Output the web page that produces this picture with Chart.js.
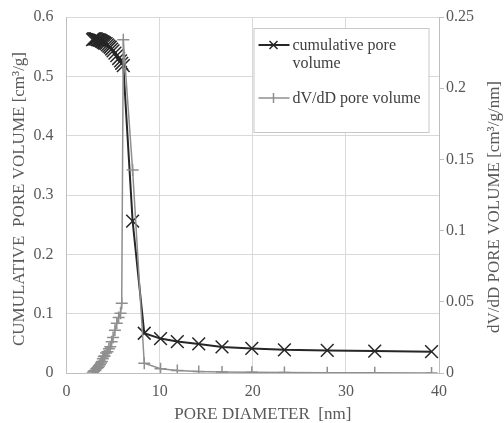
<!DOCTYPE html>
<html>
<head>
<meta charset="utf-8">
<script src="https://cdn.jsdelivr.net/npm/chart.js@4.4.1/dist/chart.umd.min.js"></script>
<style>
  html, body { margin: 0; padding: 0; background: #ffffff; }
  #wrap { width: 504px; height: 423px; }
</style>
</head>
<body>
<div id="wrap"><canvas id="chart" width="504" height="423"></canvas></div>
<script>
// BJH pore size distribution: pore diameter [nm]
const poreDiameter = [
  2.8, 2.9, 3.0, 3.1, 3.2, 3.3, 3.4, 3.5, 3.6, 3.7, 3.8, 3.9, 4.0, 4.1,
  4.25, 4.4, 4.55, 4.7, 4.85, 5.0, 5.2, 5.4, 5.6, 5.8, 5.93, 6.1,
  7.1, 8.35, 10.1, 11.9, 14.2, 16.7, 19.9, 23.4, 28.0, 33.1, 39.2
];
// cumulative pore volume [cm3/g]
const cumulativeVolume = [
  0.562, 0.563, 0.563, 0.563, 0.563, 0.562, 0.562, 0.561, 0.561, 0.560, 0.559, 0.558, 0.557, 0.556,
  0.555, 0.553, 0.551, 0.549, 0.546, 0.543, 0.539, 0.535, 0.530, 0.526, 0.522, 0.518,
  0.256, 0.067, 0.058, 0.053, 0.049, 0.044, 0.0415, 0.039, 0.038, 0.037, 0.036
];
// dV/dD pore volume [cm3/g/nm]
const dVdDVolume = [
  0.000, 0.001, 0.0015, 0.002, 0.003, 0.0035, 0.004, 0.005, 0.006, 0.007, 0.008, 0.010, 0.0115, 0.012,
  0.014, 0.015, 0.017, 0.0185, 0.022, 0.025, 0.030, 0.035, 0.039, 0.042, 0.049, 0.234,
  0.1425, 0.0068, 0.003, 0.0018, 0.001, 0.0007, 0.0005, 0.0003, 0.0002, 0.0001, 0.0
];

// axis ranges [min, max, step]
const xAxisRange = [0, 40, 10];
const leftAxisRange = [0, 0.6, 0.1];
const rightAxisRange = [0, 0.25, 0.05];

// texts
const seriesNames = ['cumulative pore volume', 'dV/dD pore volume'];
const xTitle = 'PORE DIAMETER  [nm]';
const leftTitle = 'CUMULATIVE  PORE VOLUME [cm\u00B3/g]';
const rightTitle = 'dV/dD PORE VOLUME [cm\u00B3/g/nm]';

const FONT = "'Liberation Serif', 'Times New Roman', serif";
const TEXT = '#595959';
const DARK = '#262626';
const GREY = '#8f8f8f';
const GRID = '#d9d9d9';

const toPoints = ys => poreDiameter.map((x, i) => ({ x: x, y: ys[i] }));
const fmt = v => String(Number(v.toFixed(3)));

// fixed scale boxes, with no extra room reserved for overhanging tick labels
const fixWidth = w => s => { s.width = w; s.paddingTop = 0; s.paddingBottom = 0; };
const fixHeight = h => s => { s.height = h; s.paddingLeft = 0; s.paddingRight = 0; };

// axis titles and the boxed legend
const decorations = {
  id: 'decorations',
  afterDraw(chart) {
    const ctx = chart.ctx;
    const ca = chart.chartArea;
    ctx.save();
    ctx.fillStyle = TEXT;
    ctx.font = '17px ' + FONT;
    ctx.textAlign = 'center';
    ctx.textBaseline = 'middle';
    // bottom title
    ctx.fillText(xTitle, (ca.left + ca.right) / 2 + 10, ca.bottom + 42);
    // left title
    ctx.save();
    ctx.translate(20, (ca.top + ca.bottom) / 2 + 4);
    ctx.rotate(-Math.PI / 2);
    ctx.fillText(leftTitle, 0, 0);
    ctx.restore();
    // right title (reads bottom to top)
    ctx.save();
    ctx.translate(495, (ca.top + ca.bottom) / 2 + 12);
    ctx.rotate(-Math.PI / 2);
    ctx.fillText(rightTitle, 0, 0);
    ctx.restore();

    // legend box
    const bx = ca.left + 187, by = ca.top + 11, bw = 175, bh = 104;
    ctx.fillStyle = '#ffffff';
    ctx.fillRect(bx, by, bw, bh);
    ctx.strokeStyle = '#c8c8c8';
    ctx.lineWidth = 1;
    ctx.strokeRect(bx + 0.5, by + 0.5, bw, bh);

    const sx0 = bx + 5, sx1 = bx + 36, mx = bx + 20;
    // entry 1
    const y1 = by + 17;
    ctx.strokeStyle = DARK;
    ctx.lineWidth = 2;
    ctx.beginPath(); ctx.moveTo(sx0, y1); ctx.lineTo(sx1, y1); ctx.stroke();
    ctx.lineWidth = 1.5;
    ctx.beginPath();
    ctx.moveTo(mx - 4, y1 - 4); ctx.lineTo(mx + 4, y1 + 4);
    ctx.moveTo(mx - 4, y1 + 4); ctx.lineTo(mx + 4, y1 - 4);
    ctx.stroke();
    // entry 2
    const y2 = by + 70;
    ctx.strokeStyle = GREY;
    ctx.lineWidth = 1.5;
    ctx.beginPath(); ctx.moveTo(sx0, y2); ctx.lineTo(sx1, y2); ctx.stroke();
    ctx.beginPath(); ctx.moveTo(mx, y2 - 5); ctx.lineTo(mx, y2 + 5); ctx.stroke();

    ctx.fillStyle = '#404040';
    ctx.font = '16px ' + FONT;
    ctx.textAlign = 'left';
    ctx.fillText('cumulative pore', bx + 39, y1 + 1);
    ctx.fillText('volume', bx + 39, y1 + 19);
    ctx.fillText(seriesNames[1], bx + 39, y2 + 1);
    ctx.restore();
  }
};

new Chart(document.getElementById('chart'), {
  type: 'line',
  data: {
    datasets: [
      {
        label: seriesNames[0],
        data: toPoints(cumulativeVolume),
        yAxisID: 'y',
        borderColor: DARK,
        backgroundColor: DARK,
        borderWidth: 2,
        pointStyle: 'crossRot',
        pointRadius: 9,
        pointBorderWidth: 1.5,
        pointBorderColor: DARK,
        tension: 0,
        order: 2
      },
      {
        label: seriesNames[1],
        data: toPoints(dVdDVolume),
        yAxisID: 'y2',
        borderColor: GREY,
        backgroundColor: GREY,
        borderWidth: 1.5,
        pointStyle: 'cross',
        pointRadius: 6,
        pointBorderWidth: 1.5,
        pointBorderColor: GREY,
        tension: 0,
        order: 1
      }
    ]
  },
  options: {
    responsive: false,
    animation: false,
    devicePixelRatio: 1,
    layout: { padding: { top: 17, left: 0, right: 0, bottom: 0 } },
    plugins: { legend: { display: false }, tooltip: { enabled: false } },
    scales: {
      x: {
        type: 'linear',
        min: xAxisRange[0], max: xAxisRange[1],
        afterFit: fixHeight(50),
        grid: { color: GRID, drawTicks: false, lineWidth: 1 },
        border: { color: '#bfbfbf' },
        ticks: {
          stepSize: xAxisRange[2],
          padding: 9,
          color: TEXT,
          font: { family: FONT, size: 16 },
          maxRotation: 0
        }
      },
      y: {
        position: 'left',
        min: leftAxisRange[0], max: leftAxisRange[1],
        afterFit: fixWidth(66.5),
        grid: { color: GRID, drawTicks: false },
        border: { color: '#bfbfbf' },
        ticks: {
          stepSize: leftAxisRange[2],
          padding: 13,
          color: TEXT,
          font: { family: FONT, size: 16 },
          callback: v => fmt(v)
        }
      },
      y2: {
        position: 'right',
        min: rightAxisRange[0], max: rightAxisRange[1],
        afterFit: fixWidth(65),
        grid: { drawOnChartArea: false, drawTicks: true, tickLength: 5, color: '#bfbfbf' },
        border: { color: '#bfbfbf' },
        ticks: {
          stepSize: rightAxisRange[2],
          padding: 2,
          color: TEXT,
          font: { family: FONT, size: 16 },
          callback: v => fmt(v)
        }
      }
    }
  },
  plugins: [decorations]
});
</script>
</body>
</html>
